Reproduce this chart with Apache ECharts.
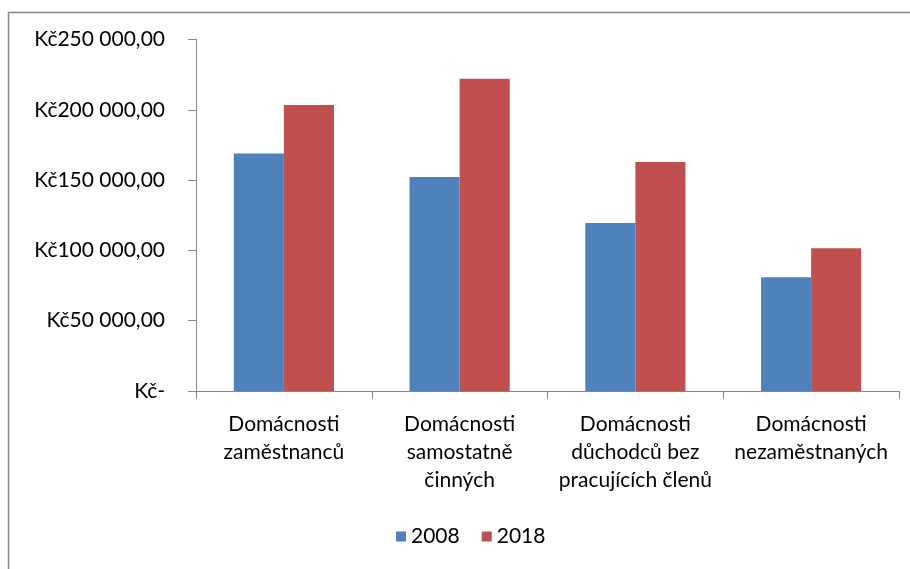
<!DOCTYPE html>
<html>
<head>
<meta charset="utf-8">
<script src="https://cdn.jsdelivr.net/npm/echarts@6/dist/echarts.min.js"></script>
<style>
  html, body { margin: 0; padding: 0; background: #fff; }
  #chart { width: 910px; height: 569px; }
</style>
</head>
<body>
<div id="chart"></div>
<script>
// Household categories and yearly values (Kč)
const categories = [
  'Domácnosti\nzaměstnanců',
  'Domácnosti\nsamostatně\nčinných',
  'Domácnosti\ndůchodců bez\npracujících členů',
  'Domácnosti\nnezaměstnaných'
];
const seriesNames = ['2008', '2018'];
const values2008 = [169000, 152200, 119500, 80900];
const values2018 = [203400, 222100, 162900, 101500];
const yTicks = [0, 50000, 100000, 150000, 200000, 250000];

const FONT = 'Lato';
const FONT_SIZE = 21;
const AXIS_GREY = '#868686';

function formatKc(v) {
  if (v === 0) return 'Kč-';
  const s = String(Math.round(v)).replace(/\B(?=(\d{3})+(?!\d))/g, ' ');
  return 'Kč' + s + ',00';
}

const chart = echarts.init(document.getElementById('chart'), null, { renderer: 'canvas' });
chart.setOption({
  animation: false,
  textStyle: { fontFamily: FONT },
  graphic: [{
    type: 'rect',
    shape: { x: 8.5, y: 12.5, width: 920, height: 580 },
    style: { fill: 'none', stroke: AXIS_GREY, lineWidth: 1.5 },
    silent: true
  }],
  legend: {
    data: seriesNames,
    left: 391,
    top: 521,
    itemWidth: 10,
    itemHeight: 10,
    itemGap: 22,
    icon: 'rect',
    textStyle: { fontFamily: FONT, fontSize: FONT_SIZE, color: '#000' }
  },
  grid: { left: 196, top: 39.5, width: 703, height: 351.5 },
  xAxis: {
    type: 'category',
    data: categories,
    axisLine: { lineStyle: { color: AXIS_GREY, width: 1 } },
    axisTick: { show: true, length: 8, lineStyle: { color: AXIS_GREY } },
    axisLabel: {
      interval: 0,
      margin: 19,
      fontFamily: FONT,
      fontSize: FONT_SIZE,
      lineHeight: 28,
      color: '#000'
    }
  },
  yAxis: {
    type: 'value',
    min: yTicks[0],
    max: yTicks[yTicks.length - 1],
    interval: yTicks[1] - yTicks[0],
    splitLine: { show: false },
    axisLine: { show: true, lineStyle: { color: AXIS_GREY, width: 1 } },
    axisTick: { show: true, length: 8, lineStyle: { color: AXIS_GREY } },
    axisLabel: {
      margin: 31,
      fontFamily: FONT,
      fontSize: FONT_SIZE,
      color: '#000',
      formatter: formatKc
    }
  },
  series: [
    {
      name: seriesNames[0],
      type: 'bar',
      data: values2008,
      barGap: '0%',
      barCategoryGap: '43%',
      itemStyle: { color: '#4F81BD' }
    },
    {
      name: seriesNames[1],
      type: 'bar',
      data: values2018,
      barGap: '0%',
      barCategoryGap: '43%',
      itemStyle: { color: '#C0504D' }
    }
  ]
});
</script>
</body>
</html>
